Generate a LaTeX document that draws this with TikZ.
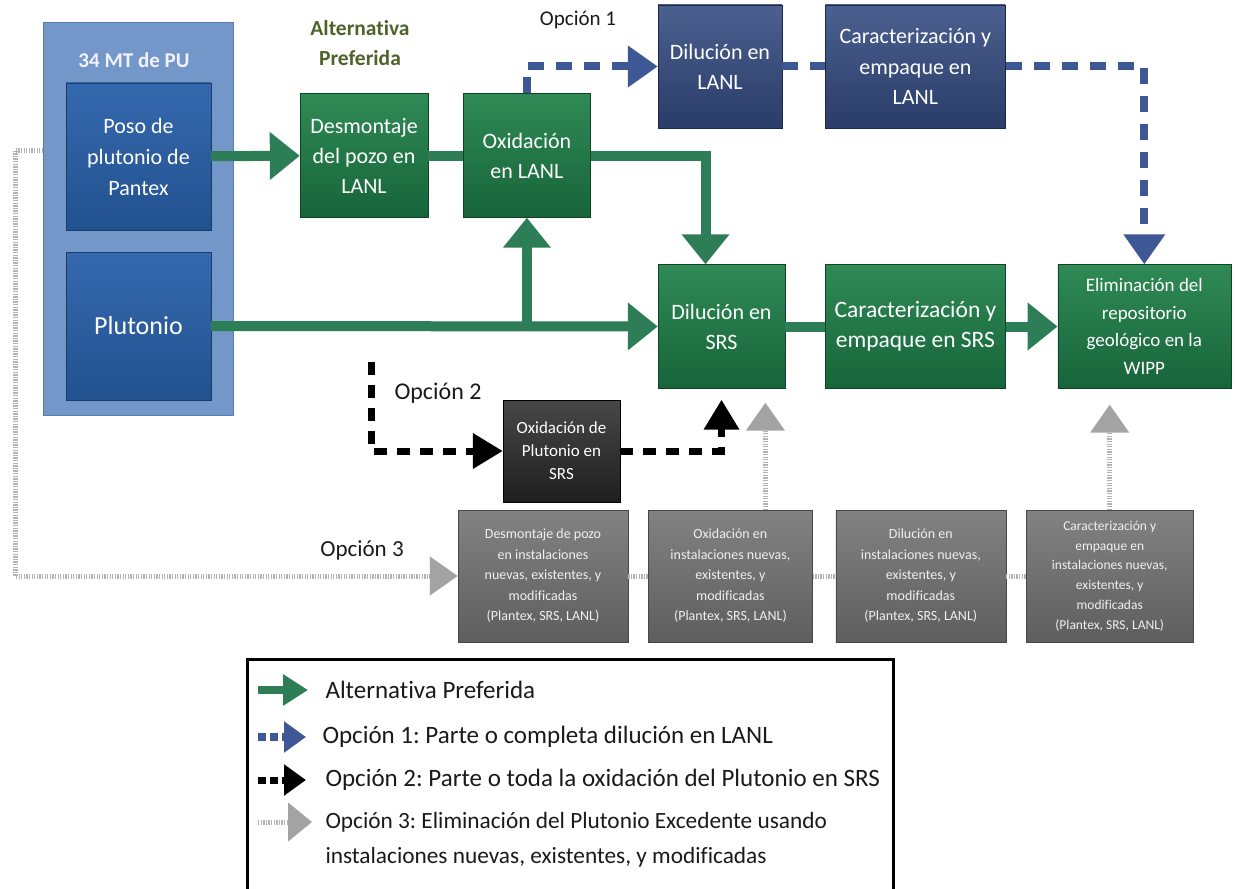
\documentclass[tikz,border=0pt]{standalone}
\usepackage{fontspec}
\setmainfont{Carlito}[Ligatures=NoCommon]
\usetikzlibrary{arrows.meta, positioning, calc}
\definecolor{GreenTop}{HTML}{2F8A55}
\definecolor{GreenBot}{HTML}{17643A}
\definecolor{GreenEdge}{HTML}{0F4426}
\definecolor{ArrGreen}{HTML}{2D7D56}
\definecolor{PuFill}{HTML}{7497C9}
\definecolor{PuEdge}{HTML}{5A7DB0}
\definecolor{BlueTop}{HTML}{3569AE}
\definecolor{BlueBot}{HTML}{22518F}
\definecolor{BlueEdge}{HTML}{1B3A66}
\definecolor{NavyTop}{HTML}{4B6090}
\definecolor{NavyBot}{HTML}{2A3C68}
\definecolor{NavyEdge}{HTML}{1C2744}
\definecolor{DashBlue}{HTML}{3D5894}
\definecolor{GreyTop}{HTML}{828282}
\definecolor{GreyBot}{HTML}{5E5E5E}
\definecolor{GreyEdge}{HTML}{474747}
\definecolor{ArrGrey}{HTML}{A3A3A3}
\definecolor{HatchGrey}{HTML}{B3B3B3}
\definecolor{Olive}{HTML}{4F6228}
\definecolor{TextDark}{HTML}{1A1A1A}
\frenchspacing

\begin{document}
\begin{tikzpicture}[x=1pt, y=-1pt,
        box/.style={rectangle, inner sep=2pt, align=center, text=white},
        gbox/.style={box, draw=GreenEdge, top color=GreenTop, bottom color=GreenBot, minimum height=124pt, font=\fontsize{22}{30}\selectfont},
        bbox/.style={box, draw=BlueEdge, top color=BlueTop, bottom color=BlueBot, minimum width=145pt},
        nbox/.style={box, draw=NavyEdge, top color=NavyTop, bottom color=NavyBot, minimum height=123pt, font=\fontsize{22}{30}\selectfont},
        grbox/.style={box, draw=GreyEdge, top color=GreyTop, bottom color=GreyBot, minimum height=132pt, text=white!94!black, font=\fontsize{14}{20.5}\selectfont},
        lbl/.style={text=TextDark, font=\fontsize{25}{28}\selectfont},
        garr/.style={draw=ArrGreen, line width=10pt, -{Triangle[length=30pt,width=46pt]}},
        o1arr/.style={draw=DashBlue, line width=8pt, dash pattern=on 16pt off 12pt, -{Triangle[length=30pt,width=40pt]}},
        o2arr/.style={draw=black, line width=7pt, dash pattern=on 13pt off 10pt, -{Triangle[length=30pt,width=34pt]}},
        o3arr/.style={draw=HatchGrey, line width=5pt, dash pattern=on 1.3pt off 1.3pt, -{Triangle[length=28pt,width=38pt,color=ArrGrey]}}
      ]
        \useasboundingbox (0,0) rectangle (1238,888);

        \node[rectangle, draw=PuEdge, fill=PuFill, minimum width=190pt, minimum height=393pt] (pu) at (138,218.5) {};
        \node[text=white!95!blue, font=\bfseries\fontsize{21}{24}\selectfont] (putit) at (134,60) {34 MT de PU};
        \node[bbox, minimum height=147pt, font=\fontsize{22}{31}\selectfont] (poso) at (138.5,156.5) {Poso de\\plutonio de\\Pantex};
        \node[bbox, minimum height=148pt, font=\fontsize{26}{30}\selectfont] (plu) at (138.5,326) {Plutonio};

        \node[text=Olive, align=center, font=\bfseries\fontsize{21.5}{30}\selectfont] (alt) at (360,43) {Alternativa\\Preferida};
        \node[gbox, minimum width=128pt] (desm) at (364,155.5) {Desmontaje\\del pozo en\\LANL};
        \node[gbox, minimum width=127pt, right=35pt of desm] (oxl) {Oxidación\\en LANL};
        \node[gbox, minimum width=127pt] (dsrs) at (721.5,326.5) {Dilución en\\SRS};
        \node[gbox, minimum width=180pt, right=40pt of dsrs, font=\fontsize{23.5}{30}\selectfont] (csrs) {Caracterización y\\empaque en SRS};
        \node[gbox, minimum width=173pt, right=52pt of csrs, font=\fontsize{19}{27.5}\selectfont] (elim) {Eliminación del\\repositorio\\geológico en la\\WIPP};

        \node[nbox, minimum width=124pt] (dlanl) at (720,66.5) {Dilución en\\LANL};
        \node[nbox, minimum width=180pt, right=43pt of dlanl, font=\fontsize{22}{30.5}\selectfont] (clanl) {Caracterización y\\empaque en\\LANL};

        \node[box, draw=black, top color=black!72, bottom color=black!88, minimum width=117pt, minimum height=102pt, font=\fontsize{17}{23}\selectfont] (oxsrs) at (561.5,451) {Oxidación de\\Plutonio en\\SRS};

        \node[grbox, minimum width=170pt] (g1) at (543,576) {Desmontaje de pozo\\en instalaciones\\nuevas, existentes, y\\modificadas\\(Plantex, SRS, LANL)};
        \node[grbox, minimum width=164pt, right=20pt of g1] (g2) {Oxidación en\\instalaciones nuevas,\\existentes, y\\modificadas\\(Plantex, SRS, LANL)};
        \node[grbox, minimum width=170pt, right=23pt of g2] (g3) {Dilución en\\instalaciones nuevas,\\existentes, y\\modificadas\\(Plantex, SRS, LANL)};
        \node[grbox, minimum width=167pt, right=20pt of g3, font=\fontsize{13.5}{19.8}\selectfont] (g4) {Caracterización y\\empaque en\\instalaciones nuevas,\\existentes, y\\modificadas\\(Plantex, SRS, LANL)};

        \node[lbl, font=\fontsize{21}{24}\selectfont] (op1) at (578,20) {Opción 1};
        \node[lbl, font=\fontsize{24}{28}\selectfont] (op2) at (438,393) {Opción 2};
        \node[lbl, font=\fontsize{23}{28}\selectfont] (op3) at (362,550) {Opción 3};

        \draw[garr] (poso) -- (desm);
        \draw[garr, -] (desm) -- (oxl);
        \draw[garr] (oxl.east) -| ([xshift=-16pt]dsrs.north);
        \draw[garr] (plu.east) -- (dsrs.west);
        \draw[garr] (oxl.south |- plu.east) -- (oxl.south);
        \draw[garr, -] (dsrs) -- (csrs);
        \draw[garr] (csrs) -- (elim);

        \draw[o1arr] (oxl.north) |- (dlanl.west);
        \draw[o1arr, -] (dlanl) -- (clanl);
        \draw[o1arr] (clanl.east) -| (elim.north);

        \coordinate (o2ini) at (371,362);
        \draw[o2arr] (o2ini) |- (oxsrs.west);
        \draw[o2arr, shorten >=11pt] (oxsrs.east) -| (dsrs.south);

        \coordinate (o3ini) at (43,150);
        \draw[o3arr] (o3ini) -- ++(-28,0) |- (g1.west);
        \draw[o3arr, -] (g1) -- (g2);
        \draw[o3arr, -] (g2) -- (g3);
        \draw[o3arr, -] (g3) -- (g4);
        \draw[o3arr, shorten >=14pt] ([xshift=35pt]g2.north) -- ([xshift=35pt]g2.north |- dsrs.south);
        \draw[o3arr, shorten >=16pt] (g4.north) -- (g4.north |- elim.south);

        \node[draw=black, line width=3pt, minimum width=646pt, minimum height=240pt] (leyenda) at (570,779) {};
        \coordinate (k1a) at (258,690); \coordinate (k1b) at (308,690);
        \coordinate (k2a) at (258,737); \coordinate (k2b) at (306,737);
        \coordinate (k3a) at (258,780); \coordinate (k3b) at (306,780);
        \coordinate (k4a) at (258,822); \coordinate (k4b) at (312,822);
        \draw[garr, line width=8pt, -{Triangle[length=25pt,width=30pt]}] (k1a) -- (k1b);
        \draw[o1arr, dash pattern=on 8pt off 4pt, -{Triangle[length=22pt,width=30pt]}] (k2a) -- (k2b);
        \draw[o2arr, dash pattern=on 8pt off 4pt, -{Triangle[length=22pt,width=30pt]}] (k3a) -- (k3b);
        \draw[o3arr, -{Triangle[length=24pt,width=38pt,color=ArrGrey]}] (k4a) -- (k4b);
        \node[lbl, anchor=west] (t1) at (322,690) {Alternativa Preferida};
        \node[lbl, anchor=west] (t2) at (319,737) {Opción 1: Parte o completa dilución en LANL};
        \node[lbl, anchor=west] (t3) at (322,780) {Opción 2: Parte o toda la oxidación del Plutonio en SRS};
        \node[lbl, anchor=west, align=left, font=\fontsize{23.3}{35}\selectfont] (t4) at (322,839.5) {Opción 3: Eliminación del Plutonio Excedente usando\\instalaciones nuevas, existentes, y modificadas};
      \end{tikzpicture}
\end{document}
